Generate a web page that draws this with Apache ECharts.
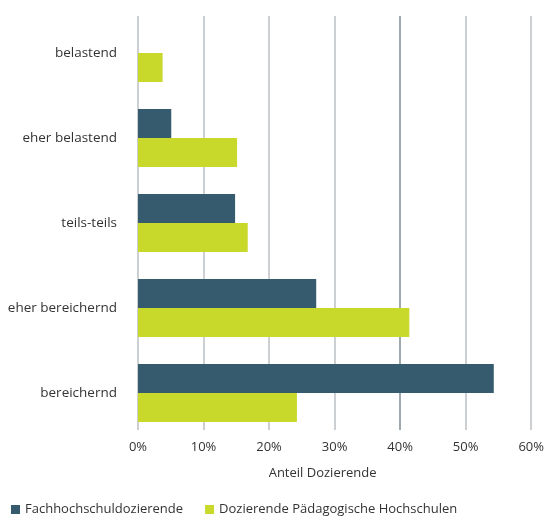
<!DOCTYPE html>
<html>
<head>
<meta charset="utf-8">
<script src="https://cdn.jsdelivr.net/npm/echarts@6/dist/echarts.min.js"></script>
<style>
  html, body { margin: 0; padding: 0; background: #ffffff; }
  #chart { width: 547px; height: 518px; }
</style>
</head>
<body>
<div id="chart"></div>
<script>
// Bewertung der Lehrtätigkeit (Anteil Dozierende in %)
const categories = ['belastend', 'eher belastend', 'teils-teils', 'eher bereichernd', 'bereichernd'];
const seriesNames = ['Fachhochschuldozierende', 'Dozierende Pädagogische Hochschulen'];
const fhValues = [0, 5.0, 14.6, 26.8, 53.5];
const phValues = [3.7, 14.9, 16.5, 40.8, 23.9];
const tickValues = [0, 10, 20, 30, 40, 50, 60];

const fontFamily = '"Open Sans", "Noto Sans", sans-serif';
const textColor = '#333333';
const gridLineColors = tickValues.map(v => (v === 40 ? '#7f8c92' : '#bcc1c4'));

const chart = echarts.init(document.getElementById('chart'), null, { renderer: 'canvas' });

chart.setOption({
  animation: false,
  textStyle: { fontFamily: fontFamily, color: textColor },
  color: ['#365b6e', '#c8d92b'],
  legend: {
    left: 6,
    top: 498,
    itemWidth: 9,
    itemHeight: 9,
    itemGap: 22,
    icon: 'rect',
    textStyle: { fontFamily: fontFamily, fontSize: 13, color: textColor },
    data: seriesNames
  },
  grid: [
    // bars
    { left: 138, right: 10, top: 10.5, height: 425, containLabel: false },
    // value axis with grid lines
    { left: 138, right: 10, top: 16, bottom: 88, containLabel: false }
  ],
  xAxis: [
    {
      gridIndex: 0,
      type: 'value',
      min: 0,
      max: 60,
      interval: 10,
      show: false
    },
    {
      gridIndex: 1,
      type: 'value',
      min: 0,
      max: 60,
      interval: 10,
      axisLine: { show: false },
      axisTick: { show: false },
      splitLine: { show: true, lineStyle: { color: gridLineColors, width: 1.5 } },
      axisLabel: {
        margin: 11,
        fontSize: 13,
        color: textColor,
        fontFamily: fontFamily,
        formatter: v => v + '%'
      },
      name: 'Anteil Dozierende',
      nameLocation: 'middle',
      nameGap: 37,
      nameTextStyle: { fontSize: 13, color: textColor, fontFamily: fontFamily, padding: [0, 24, 0, 0] }
    }
  ],
  yAxis: [
    {
      gridIndex: 0,
      type: 'category',
      data: categories,
      inverse: true,
      axisLine: { show: false },
      axisTick: { show: false },
      axisLabel: { margin: 21, fontSize: 13.5, color: textColor, fontFamily: fontFamily }
    },
    {
      gridIndex: 1,
      type: 'category',
      data: categories,
      show: false
    }
  ],
  series: [
    {
      name: seriesNames[0],
      type: 'bar',
      xAxisIndex: 0,
      yAxisIndex: 0,
      data: fhValues,
      barWidth: 29,
      barGap: '0%'
    },
    {
      name: seriesNames[1],
      type: 'bar',
      xAxisIndex: 0,
      yAxisIndex: 0,
      data: phValues,
      barWidth: 29,
      barGap: '0%'
    }
  ]
});
</script>
</body>
</html>
